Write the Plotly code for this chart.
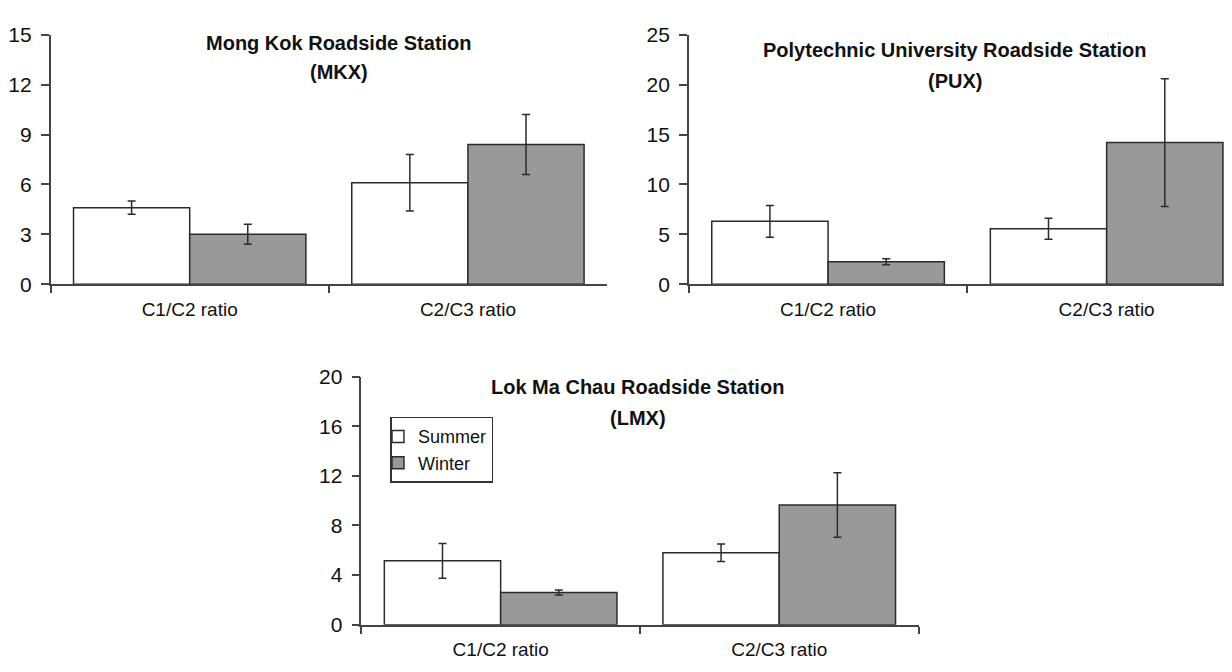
import plotly.graph_objects as go

categories = ["C1/C2 ratio", "C2/C3 ratio"]

mkx_summer = [4.6, 6.1]
mkx_summer_err = [0.4, 1.7]
mkx_winter = [3.0, 8.4]
mkx_winter_err = [0.6, 1.8]

pux_summer = [6.3, 5.55]
pux_summer_err = [1.6, 1.05]
pux_winter = [2.25, 14.2]
pux_winter_err = [0.3, 6.4]

lmx_summer = [5.15, 5.8]
lmx_summer_err = [1.4, 0.7]
lmx_winter = [2.6, 9.65]
lmx_winter_err = [0.2, 2.6]

# page offset caused by default body margin (8 px)
OFF = 8
W, H = 1232 - OFF, 672 - OFF
FONT = "Liberation Sans, Arial, sans-serif"
OUTLINE = "#2b2b2b"
SUMMER = "#ffffff"
WINTER = "#999999"

fig = go.Figure()

panels = [
    ("x", "y", mkx_summer, mkx_summer_err, mkx_winter, mkx_winter_err),
    ("x2", "y2", pux_summer, pux_summer_err, pux_winter, pux_winter_err),
    ("x3", "y3", lmx_summer, lmx_summer_err, lmx_winter, lmx_winter_err),
]
for i, (xa, ya, s, se, w, we) in enumerate(panels):
    show = (i == 2)
    fig.add_trace(go.Bar(
        x=categories, y=s, name="Summer", xaxis=xa, yaxis=ya, showlegend=show,
        marker=dict(color=SUMMER, line=dict(color=OUTLINE, width=1.5)),
        error_y=dict(type="data", array=se, visible=True, color=OUTLINE, thickness=1.5, width=4),
    ))
    fig.add_trace(go.Bar(
        x=categories, y=w, name="Winter", xaxis=xa, yaxis=ya, showlegend=show,
        marker=dict(color=WINTER, line=dict(color=OUTLINE, width=1.5)),
        error_y=dict(type="data", array=we, visible=True, color=OUTLINE, thickness=1.5, width=4),
    ))

def px_x(p):
    return (p - OFF) / W

def px_y(p):
    return 1 - (p - OFF) / H

AX_LINE = "#444444"
ytick_font = dict(family=FONT, size=21, color="#111111")
xtick_font = dict(family=FONT, size=19, color="#111111")

xcommon = dict(type="category", showline=True, linecolor=AX_LINE, linewidth=1.5,
               ticks="outside", tickson="boundaries", ticklen=7, tickwidth=1.5,
               tickcolor=AX_LINE, showgrid=False, zeroline=False, tickfont=xtick_font,
               ticklabelstandoff=7, fixedrange=True)
ycommon = dict(showline=True, linecolor=AX_LINE, linewidth=1.5, ticks="outside",
               ticklen=8, tickwidth=1.5, tickcolor=AX_LINE, showgrid=False,
               zeroline=False, tickfont=ytick_font, ticklabelstandoff=5, fixedrange=True)

fig.update_layout(
    width=W, height=H,
    margin=dict(l=0, r=0, t=0, b=0),
    paper_bgcolor="white", plot_bgcolor="white",
    barmode="group", bargap=0.165, bargroupgap=0,
    font=dict(family=FONT, size=19, color="#111111"),
    xaxis=dict(xcommon, domain=[px_x(46.7), px_x(605)], anchor="y", range=[-0.5, 1.5]),
    yaxis=dict(ycommon, domain=[px_y(281.7), px_y(23.3)], anchor="x", range=[0, 15], dtick=3, tick0=0),
    xaxis2=dict(xcommon, domain=[px_x(687), 1.0], anchor="y2", range=[-0.5, 1.45]),
    yaxis2=dict(ycommon, domain=[px_y(281.7), px_y(23.3)], anchor="x2", range=[0, 25], dtick=5, tick0=0),
    xaxis3=dict(xcommon, domain=[px_x(358.5), px_x(917.5)], anchor="y3", range=[-0.5, 1.5]),
    yaxis3=dict(ycommon, domain=[px_y(634.5), px_y(377.3)], anchor="x3", range=[0, 20], dtick=4, tick0=0),
    showlegend=True,
    legend=dict(
        x=px_x(387.7), y=px_y(419), xanchor="left", yanchor="top",
        bgcolor="white", bordercolor="#333333", borderwidth=1.5,
        font=dict(family=FONT, size=18, color="#111111"),
        traceorder="normal", indentation=-14, tracegroupgap=0,
        itemwidth=30,
    ),
)

titles = [
    ("Mong Kok Roadside Station", "(MKX)", 336, 31.7, 61.7),
    ("Polytechnic University Roadside Station", "(PUX)", 954, 39.3, 71.7),
    ("Lok Ma Chau Roadside Station", "(LMX)", 636, 388.3, 420),
]
for l1, l2, cx, y1, y2 in titles:
    for txt, yy in ((l1, y1), (l2, y2)):
        fig.add_annotation(
            text="<b>%s</b>" % txt, xref="paper", yref="paper",
            x=px_x(cx), y=px_y(yy), xanchor="center", yanchor="middle",
            showarrow=False, font=dict(family=FONT, size=20, color="#111111"),
        )

fig.write_html("out.html")
